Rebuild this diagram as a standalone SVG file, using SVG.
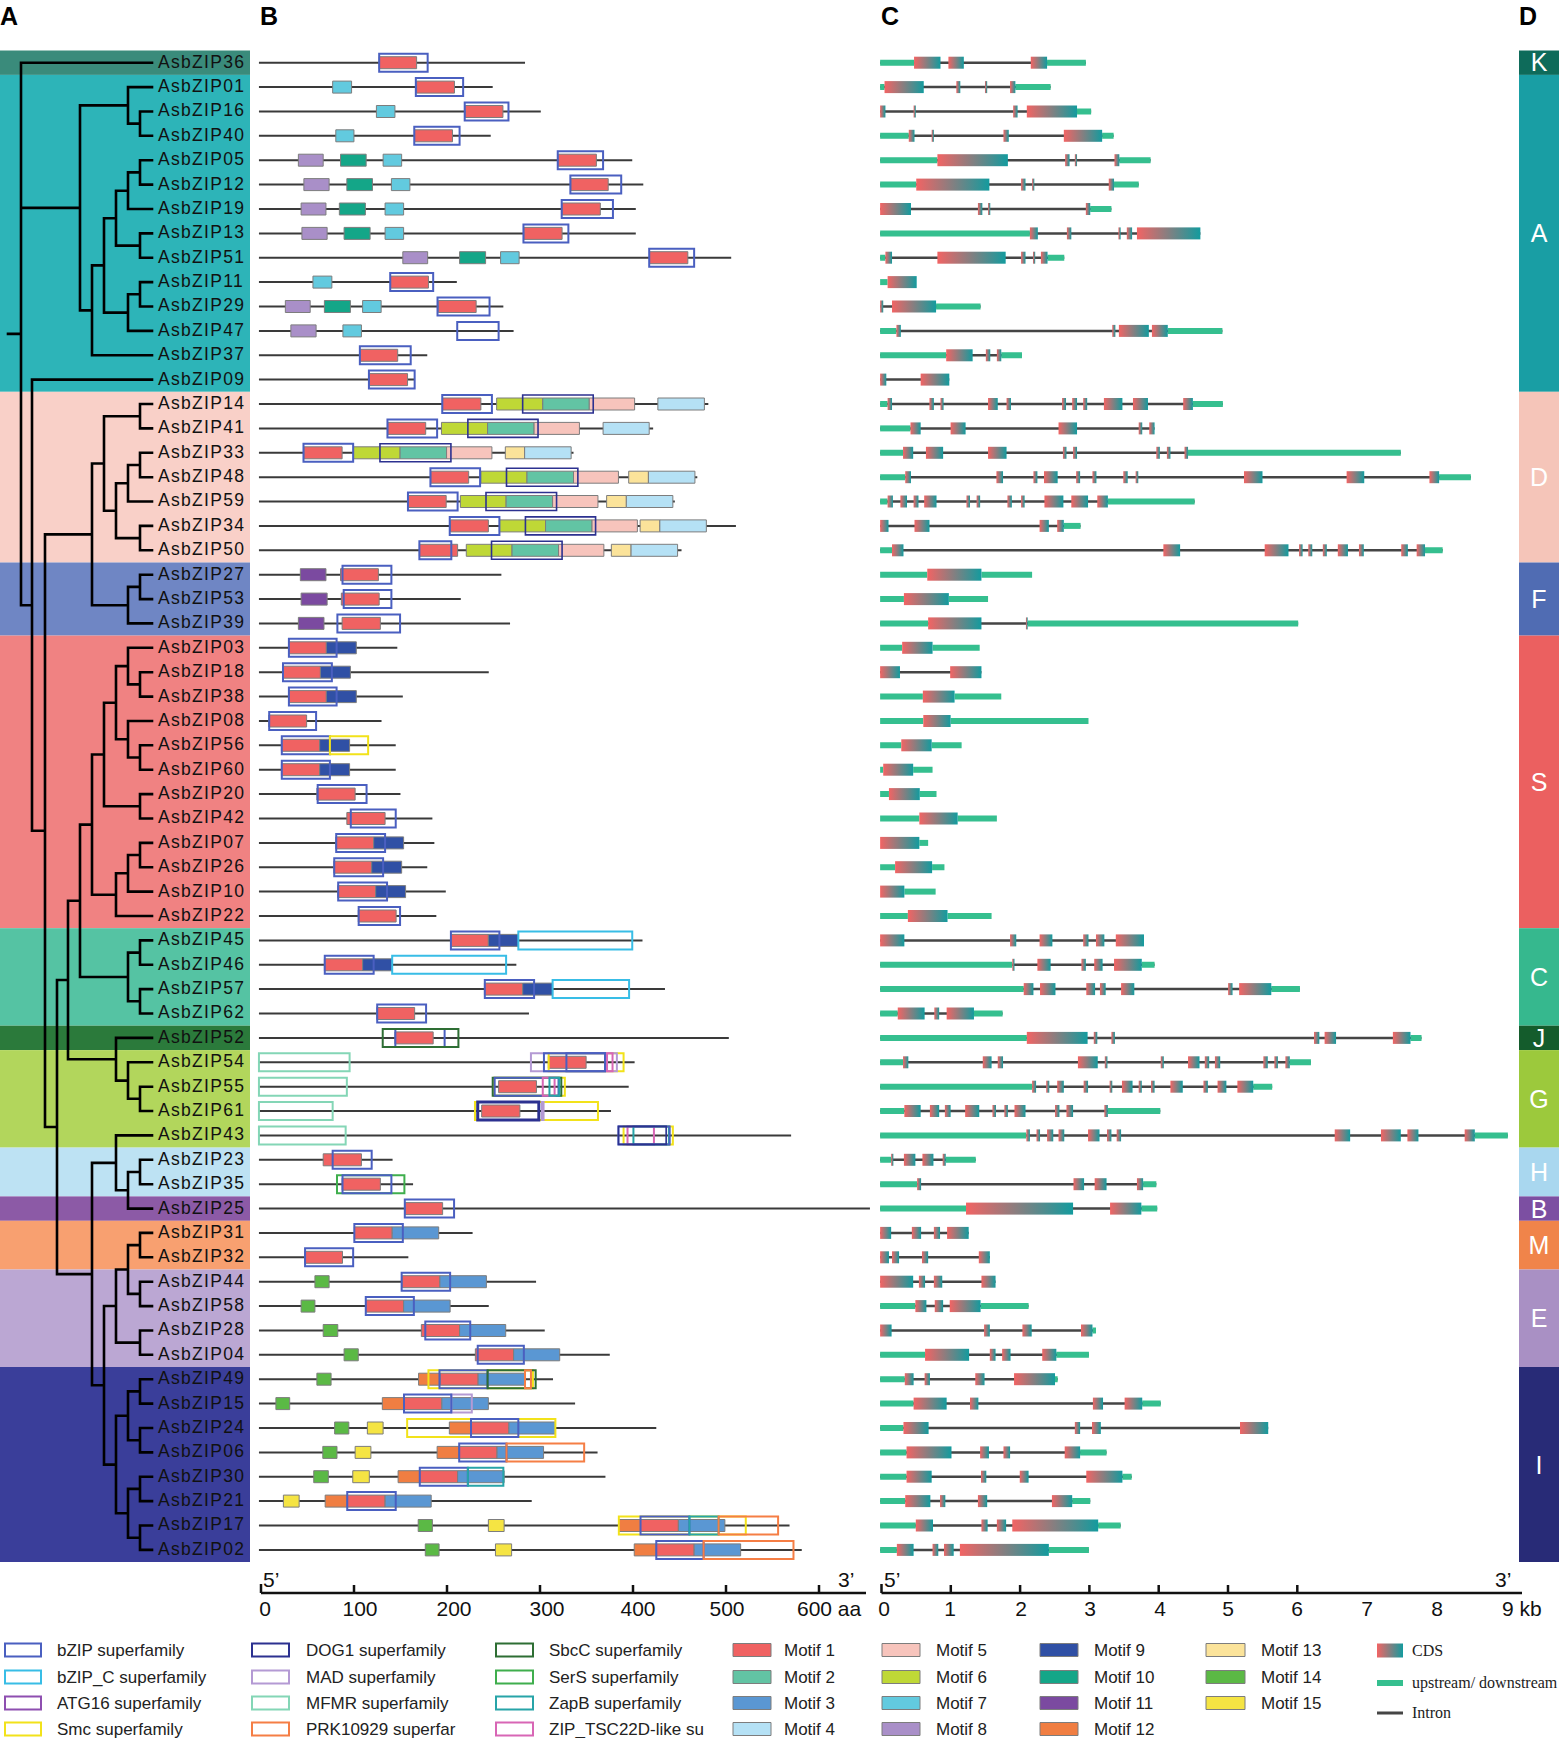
<svg xmlns="http://www.w3.org/2000/svg" width="1561" height="1738" viewBox="0 0 1561 1738">
<defs>
<linearGradient id="cds" x1="0" y1="0" x2="1" y2="0"><stop offset="0" stop-color="#f26464"/><stop offset="1" stop-color="#139b9e"/></linearGradient>
<style>
.tr{fill:none;stroke:#000;stroke-width:2.6;stroke-linecap:square}
.lb{font-family:"Liberation Sans",Arial,sans-serif;font-size:17.5px;letter-spacing:1.3px;fill:#111}
.pl{font-family:"Liberation Sans",Arial,sans-serif;font-size:25px;font-weight:bold;fill:#000}
.ax{font-family:"Liberation Sans",Arial,sans-serif;font-size:21px;fill:#111}
.lg{font-family:"Liberation Sans",Arial,sans-serif;font-size:17px;fill:#222}
.lgs{font-family:"Liberation Serif","Times New Roman",serif;font-size:16px;fill:#222}
.dl{font-family:"Liberation Sans",Arial,sans-serif;font-size:25px;fill:#fff;text-anchor:middle}
.axl{stroke:#111;stroke-width:2.5;fill:none}
.bl{stroke:#3a3a3a;stroke-width:2;vector-effect:non-scaling-stroke}
rect[class^="m"]{stroke:#7d7d7d;stroke-width:1;vector-effect:non-scaling-stroke}
rect[class^="d"]{fill:none;stroke-width:2;vector-effect:non-scaling-stroke}
.m1{fill:#f06262}.m2{fill:#62c4a4}.m3{fill:#5a97d3}.m4{fill:#b5e1f5}.m5{fill:#f7c4bc}.m6{fill:#bfd836}.m7{fill:#62cadf}.m8{fill:#a98fc8}.m9{fill:#3050a5}.m10{fill:#14a688}.m11{fill:#7b4aa0}.m12{fill:#f07e42}.m13{fill:#fbe39a}.m14{fill:#5bb945}.m15{fill:#f5e443}
.dbz{stroke:#4a5fc0}.dbzc{stroke:#38bde6}.datg{stroke:#8e4fb0}.dsmc{stroke:#f2e21a}.ddog{stroke:#2c3190}.dmad{stroke:#b49ad4}.dmfmr{stroke:#84d6b6}.dprk{stroke:#f57e45}.dsbc{stroke:#2e6e34}.dser{stroke:#3fae4d}.dzap{stroke:#27a4a8}.dzip{stroke:#d866b5}
#proteins rect.ddog{stroke-width:1.6}
.ut{fill:#35bf8f}
.cd{fill:url(#cds)}
.in{stroke:#454545;stroke-width:2.5;vector-effect:non-scaling-stroke}
</style>
</defs>
<rect width="1561" height="1738" fill="#fff"/>

<g id="panel-labels">
<text class="pl" x="0" y="25">A</text>
<text class="pl" x="260" y="25">B</text>
<text class="pl" x="881" y="25">C</text>
<text class="pl" x="1519" y="25">D</text>
</g>

<g id="bands-A">
<rect x="0" y="50.5" width="250" height="24.4" fill="#3a8b7b"/>
<rect x="0" y="74.9" width="250" height="316.9" fill="#2db4b8"/>
<rect x="0" y="391.8" width="250" height="170.7" fill="#f9d0c8"/>
<rect x="0" y="562.5" width="250" height="73.1" fill="#6f86c4"/>
<rect x="0" y="635.6" width="250" height="292.6" fill="#f08282"/>
<rect x="0" y="928.2" width="250" height="97.5" fill="#55c3a3"/>
<rect x="0" y="1025.7" width="250" height="24.4" fill="#2b7a3b"/>
<rect x="0" y="1050.1" width="250" height="97.5" fill="#b2d65c"/>
<rect x="0" y="1147.6" width="250" height="48.8" fill="#bde2f3"/>
<rect x="0" y="1196.4" width="250" height="24.4" fill="#8c5aa6"/>
<rect x="0" y="1220.8" width="250" height="48.7" fill="#f8a070"/>
<rect x="0" y="1269.5" width="250" height="97.5" fill="#bba7d3"/>
<rect x="0" y="1367" width="250" height="195" fill="#3a3e9a"/>
</g>

<g id="tree">
<path class="tr" d="M8,333.9H21M21,62.7V605.2M21,62.7H152M21,207.9H80M21,605.2H32
M80,105.4V310.4M80,105.4H128M80,310.4H92
M128,87.1V123.6M128,87.1H152M128,123.6H140M140,111.5V135.8M140,111.5H152M140,135.8H152
M92,265.4V355.3M92,265.4H104M92,355.3H152
M104,218.2V312.6M104,218.2H116M104,312.6H128
M116,190.7V245.6M116,190.7H128M116,245.6H140
M128,172.4V209M128,172.4H140M128,209H152
M140,160.2V184.6M140,160.2H152M140,184.6H152
M140,233.4V257.7M140,233.4H152M140,257.7H152
M128,294.3V330.9M128,294.3H140M128,330.9H152
M140,282.1V306.5M140,282.1H152M140,306.5H152
M32,379.6V830.7M32,379.6H152M32,830.7H45
M45,534.4V1127M45,534.4H92M45,1127H57
M92,463.5V605.2M92,463.5H104M92,605.2H128
M104,416.2V510.7M104,416.2H140M104,510.7H116
M140,404V428.4M140,404H152M140,428.4H152
M116,483.3V538.1M116,483.3H128M116,538.1H140
M128,465V501.5M128,465H140M128,501.5H152
M140,452.8V477.2M140,452.8H152M140,477.2H152
M140,525.9V550.3M140,525.9H152M140,550.3H152
M128,586.9V623.4M128,586.9H140M128,623.4H152
M140,574.7V599.1M140,574.7H152M140,599.1H152
M57,980V1274.1M57,980H68M57,1274.1H92
M68,900.8V1059.3M68,900.8H80M68,1059.3H116
M80,824.6V977M80,824.6H92M80,977H128
M92,754.5V894.7M92,754.5H104M92,894.7H116
M104,702.7V806.3M104,702.7H116M104,806.3H140
M116,666.1V739.3M116,666.1H128M116,739.3H128
M128,647.8V684.4M128,647.8H152M128,684.4H140
M140,672.2V696.6M140,672.2H152M140,696.6H152
M128,721V757.5M128,721H152M128,757.5H140
M140,745.3V769.7M140,745.3H152M140,769.7H152
M140,794.1V818.5M140,794.1H152M140,818.5H152
M116,873.3V916M116,873.3H128M116,916H152
M128,855V891.6M128,855H140M128,891.6H152
M140,842.9V867.2M140,842.9H152M140,867.2H152
M128,952.6V1001.3M128,952.6H140M128,1001.3H140
M140,940.4V964.8M140,940.4H152M140,964.8H152
M140,989.1V1013.5M140,989.1H152M140,1013.5H152
M116,1037.9V1080.6M116,1037.9H152M116,1080.6H128
M128,1062.3V1098.8M128,1062.3H152M128,1098.8H140
M140,1086.7V1111M140,1086.7H152M140,1111H152
M92,1162.9V1385.3M92,1162.9H116M92,1385.3H104
M116,1135.4V1190.3M116,1135.4H152M116,1190.3H128
M128,1172V1208.6M128,1172H140M128,1208.6H152
M140,1159.8V1184.2M140,1159.8H152M140,1184.2H152
M104,1306V1464.6M104,1306H116M104,1464.6H116
M116,1269.5V1342.6M116,1269.5H128M116,1342.6H140
M128,1245.1V1293.9M128,1245.1H140M128,1293.9H140
M140,1232.9V1257.3M140,1232.9H152M140,1257.3H152
M140,1281.7V1306.1M140,1281.7H152M140,1306.1H152
M140,1330.5V1354.8M140,1330.5H152M140,1354.8H152
M116,1415.8V1513.3M116,1415.8H128M116,1513.3H128
M128,1391.4V1440.2M128,1391.4H140M128,1440.2H140
M128,1488.9V1537.7M128,1488.9H140M128,1537.7H140
M140,1379.2V1403.6M140,1379.2H152M140,1403.6H152
M140,1428V1452.4M140,1428H152M140,1452.4H152
M140,1476.7V1501.1M140,1476.7H152M140,1501.1H152
M140,1525.5V1549.9M140,1525.5H152M140,1549.9H152"/>
</g>

<g id="leaf-labels" transform="translate(0,-1.3)">
<text class="lb" x="158" y="69">AsbZIP36</text>
<text class="lb" x="158" y="93.4">AsbZIP01</text>
<text class="lb" x="158" y="117.8">AsbZIP16</text>
<text class="lb" x="158" y="142.1">AsbZIP40</text>
<text class="lb" x="158" y="166.5">AsbZIP05</text>
<text class="lb" x="158" y="190.9">AsbZIP12</text>
<text class="lb" x="158" y="215.3">AsbZIP19</text>
<text class="lb" x="158" y="239.7">AsbZIP13</text>
<text class="lb" x="158" y="264">AsbZIP51</text>
<text class="lb" x="158" y="288.4">AsbZIP11</text>
<text class="lb" x="158" y="312.8">AsbZIP29</text>
<text class="lb" x="158" y="337.2">AsbZIP47</text>
<text class="lb" x="158" y="361.6">AsbZIP37</text>
<text class="lb" x="158" y="385.9">AsbZIP09</text>
<text class="lb" x="158" y="410.3">AsbZIP14</text>
<text class="lb" x="158" y="434.7">AsbZIP41</text>
<text class="lb" x="158" y="459.1">AsbZIP33</text>
<text class="lb" x="158" y="483.5">AsbZIP48</text>
<text class="lb" x="158" y="507.8">AsbZIP59</text>
<text class="lb" x="158" y="532.2">AsbZIP34</text>
<text class="lb" x="158" y="556.6">AsbZIP50</text>
<text class="lb" x="158" y="581">AsbZIP27</text>
<text class="lb" x="158" y="605.4">AsbZIP53</text>
<text class="lb" x="158" y="629.7">AsbZIP39</text>
<text class="lb" x="158" y="654.1">AsbZIP03</text>
<text class="lb" x="158" y="678.5">AsbZIP18</text>
<text class="lb" x="158" y="702.9">AsbZIP38</text>
<text class="lb" x="158" y="727.3">AsbZIP08</text>
<text class="lb" x="158" y="751.6">AsbZIP56</text>
<text class="lb" x="158" y="776">AsbZIP60</text>
<text class="lb" x="158" y="800.4">AsbZIP20</text>
<text class="lb" x="158" y="824.8">AsbZIP42</text>
<text class="lb" x="158" y="849.2">AsbZIP07</text>
<text class="lb" x="158" y="873.5">AsbZIP26</text>
<text class="lb" x="158" y="897.9">AsbZIP10</text>
<text class="lb" x="158" y="922.3">AsbZIP22</text>
<text class="lb" x="158" y="946.7">AsbZIP45</text>
<text class="lb" x="158" y="971.1">AsbZIP46</text>
<text class="lb" x="158" y="995.4">AsbZIP57</text>
<text class="lb" x="158" y="1019.8">AsbZIP62</text>
<text class="lb" x="158" y="1044.2">AsbZIP52</text>
<text class="lb" x="158" y="1068.6">AsbZIP54</text>
<text class="lb" x="158" y="1093">AsbZIP55</text>
<text class="lb" x="158" y="1117.3">AsbZIP61</text>
<text class="lb" x="158" y="1141.7">AsbZIP43</text>
<text class="lb" x="158" y="1166.1">AsbZIP23</text>
<text class="lb" x="158" y="1190.5">AsbZIP35</text>
<text class="lb" x="158" y="1214.9">AsbZIP25</text>
<text class="lb" x="158" y="1239.2">AsbZIP31</text>
<text class="lb" x="158" y="1263.6">AsbZIP32</text>
<text class="lb" x="158" y="1288">AsbZIP44</text>
<text class="lb" x="158" y="1312.4">AsbZIP58</text>
<text class="lb" x="158" y="1336.8">AsbZIP28</text>
<text class="lb" x="158" y="1361.1">AsbZIP04</text>
<text class="lb" x="158" y="1385.5">AsbZIP49</text>
<text class="lb" x="158" y="1409.9">AsbZIP15</text>
<text class="lb" x="158" y="1434.3">AsbZIP24</text>
<text class="lb" x="158" y="1458.7">AsbZIP06</text>
<text class="lb" x="158" y="1483">AsbZIP30</text>
<text class="lb" x="158" y="1507.4">AsbZIP21</text>
<text class="lb" x="158" y="1531.8">AsbZIP17</text>
<text class="lb" x="158" y="1556.2">AsbZIP02</text>
</g>

<g id="proteins" transform="translate(255,0) scale(0.3942,1)">
<g transform="translate(0,62.7)"><line class="bl" x1="10" x2="685"/><rect class="m1" x="315" y="-6" width="95" height="12"/><rect class="dbz" x="315" y="-9" width="123" height="18"/></g>
<g transform="translate(0,87.1)"><line class="bl" x1="10" x2="603"/><rect class="m7" x="197" y="-6" width="48" height="12"/><rect class="m1" x="410" y="-6" width="96" height="12"/><rect class="dbz" x="408" y="-9" width="120" height="18"/></g>
<g transform="translate(0,111.5)"><line class="bl" x1="10" x2="725"/><rect class="m7" x="308" y="-6" width="47" height="12"/><rect class="m1" x="533" y="-6" width="96" height="12"/><rect class="dbz" x="532" y="-9" width="111" height="18"/></g>
<g transform="translate(0,135.8)"><line class="bl" x1="10" x2="598"/><rect class="m7" x="205" y="-6" width="46" height="12"/><rect class="m1" x="405" y="-6" width="96" height="12"/><rect class="dbz" x="404" y="-9" width="115" height="18"/></g>
<g transform="translate(0,160.2)"><line class="bl" x1="10" x2="957"/><rect class="m8" x="110" y="-6" width="63" height="12"/><rect class="m10" x="217" y="-6" width="65" height="12"/><rect class="m7" x="325" y="-6" width="47" height="12"/><rect class="m1" x="769" y="-6" width="97" height="12"/><rect class="dbz" x="768" y="-9" width="115" height="18"/></g>
<g transform="translate(0,184.6)"><line class="bl" x1="10" x2="985"/><rect class="m8" x="124" y="-6" width="64" height="12"/><rect class="m10" x="233" y="-6" width="65" height="12"/><rect class="m7" x="346" y="-6" width="47" height="12"/><rect class="m1" x="801" y="-6" width="95" height="12"/><rect class="dbz" x="800" y="-9" width="129" height="18"/></g>
<g transform="translate(0,209)"><line class="bl" x1="10" x2="966"/><rect class="m8" x="117" y="-6" width="63" height="12"/><rect class="m10" x="214" y="-6" width="66" height="12"/><rect class="m7" x="330" y="-6" width="47" height="12"/><rect class="m1" x="779" y="-6" width="97" height="12"/><rect class="dbz" x="778" y="-9" width="130" height="18"/></g>
<g transform="translate(0,233.4)"><line class="bl" x1="10" x2="966"/><rect class="m8" x="119" y="-6" width="64" height="12"/><rect class="m10" x="226" y="-6" width="66" height="12"/><rect class="m7" x="330" y="-6" width="47" height="12"/><rect class="m1" x="682" y="-6" width="97" height="12"/><rect class="dbz" x="681" y="-9" width="114" height="18"/></g>
<g transform="translate(0,257.7)"><line class="bl" x1="10" x2="1208"/><rect class="m8" x="375" y="-6" width="63" height="12"/><rect class="m10" x="519" y="-6" width="66" height="12"/><rect class="m7" x="623" y="-6" width="47" height="12"/><rect class="m1" x="1001" y="-6" width="97" height="12"/><rect class="dbz" x="1000" y="-9" width="114" height="18"/></g>
<g transform="translate(0,282.1)"><line class="bl" x1="10" x2="512"/><rect class="m7" x="147" y="-6" width="48" height="12"/><rect class="m1" x="344" y="-6" width="96" height="12"/><rect class="dbz" x="343" y="-9" width="109" height="18"/></g>
<g transform="translate(0,306.5)"><line class="bl" x1="10" x2="630"/><rect class="m8" x="77" y="-6" width="63" height="12"/><rect class="m10" x="176" y="-6" width="66" height="12"/><rect class="m7" x="273" y="-6" width="47" height="12"/><rect class="m1" x="465" y="-6" width="96" height="12"/><rect class="dbz" x="463" y="-9" width="132" height="18"/></g>
<g transform="translate(0,330.9)"><line class="bl" x1="10" x2="656"/><rect class="m8" x="91" y="-6" width="64" height="12"/><rect class="m7" x="223" y="-6" width="47" height="12"/><rect class="dbz" x="513" y="-9" width="105" height="18"/></g>
<g transform="translate(0,355.3)"><line class="bl" x1="10" x2="437"/><rect class="m1" x="267" y="-6" width="95" height="12"/><rect class="dbz" x="266" y="-9" width="129" height="18"/></g>
<g transform="translate(0,379.6)"><line class="bl" x1="10" x2="405"/><rect class="m1" x="290" y="-6" width="97" height="12"/><rect class="dbz" x="289" y="-9" width="116" height="18"/></g>
<g transform="translate(0,404)"><line class="bl" x1="10" x2="1150"/><rect class="m1" x="476" y="-6" width="97" height="12"/><rect class="m6" x="613" y="-6" width="117" height="12"/><rect class="m2" x="730" y="-6" width="118" height="12"/><rect class="m5" x="848" y="-6" width="115" height="12"/><rect class="m4" x="1022" y="-6" width="118" height="12"/><rect class="dbz" x="475" y="-9" width="126" height="18"/><rect class="ddog" x="679" y="-9" width="179" height="18"/></g>
<g transform="translate(0,428.4)"><line class="bl" x1="10" x2="1010"/><rect class="m1" x="337" y="-6" width="96" height="12"/><rect class="m6" x="473" y="-6" width="117" height="12"/><rect class="m2" x="590" y="-6" width="118" height="12"/><rect class="m5" x="708" y="-6" width="115" height="12"/><rect class="m4" x="883" y="-6" width="117" height="12"/><rect class="dbz" x="336" y="-9" width="126" height="18"/><rect class="ddog" x="540" y="-9" width="178" height="18"/></g>
<g transform="translate(0,452.8)"><line class="bl" x1="10" x2="808"/><rect class="m1" x="124" y="-6" width="97" height="12"/><rect class="m6" x="250" y="-6" width="118" height="12"/><rect class="m2" x="368" y="-6" width="118" height="12"/><rect class="m5" x="486" y="-6" width="115" height="12"/><rect class="m13" x="635" y="-6" width="49" height="12"/><rect class="m4" x="684" y="-6" width="118" height="12"/><rect class="dbz" x="123" y="-9" width="126" height="18"/><rect class="ddog" x="317" y="-9" width="180" height="18"/></g>
<g transform="translate(0,477.2)"><line class="bl" x1="10" x2="1122"/><rect class="m1" x="446" y="-6" width="96" height="12"/><rect class="m6" x="573" y="-6" width="117" height="12"/><rect class="m2" x="690" y="-6" width="118" height="12"/><rect class="m5" x="808" y="-6" width="114" height="12"/><rect class="m13" x="948" y="-6" width="50" height="12"/><rect class="m4" x="998" y="-6" width="118" height="12"/><rect class="dbz" x="445" y="-9" width="126" height="18"/><rect class="ddog" x="638" y="-9" width="181" height="18"/></g>
<g transform="translate(0,501.5)"><line class="bl" x1="10" x2="1065"/><rect class="m1" x="389" y="-6" width="96" height="12"/><rect class="m6" x="521" y="-6" width="116" height="12"/><rect class="m2" x="637" y="-6" width="118" height="12"/><rect class="m5" x="755" y="-6" width="115" height="12"/><rect class="m13" x="892" y="-6" width="50" height="12"/><rect class="m4" x="942" y="-6" width="118" height="12"/><rect class="dbz" x="388" y="-9" width="126" height="18"/><rect class="ddog" x="586" y="-9" width="179" height="18"/></g>
<g transform="translate(0,525.9)"><line class="bl" x1="10" x2="1220"/><rect class="m1" x="496" y="-6" width="96" height="12"/><rect class="m6" x="620" y="-6" width="117" height="12"/><rect class="m2" x="737" y="-6" width="118" height="12"/><rect class="m5" x="855" y="-6" width="115" height="12"/><rect class="m13" x="977" y="-6" width="50" height="12"/><rect class="m4" x="1027" y="-6" width="118" height="12"/><rect class="dbz" x="494" y="-9" width="126" height="18"/><rect class="ddog" x="686" y="-9" width="178" height="18"/></g>
<g transform="translate(0,550.3)"><line class="bl" x1="10" x2="1082"/><rect class="m1" x="417" y="-6" width="97" height="12"/><rect class="m6" x="536" y="-6" width="116" height="12"/><rect class="m2" x="652" y="-6" width="118" height="12"/><rect class="m5" x="770" y="-6" width="115" height="12"/><rect class="m13" x="904" y="-6" width="50" height="12"/><rect class="m4" x="954" y="-6" width="118" height="12"/><rect class="dbz" x="417" y="-9" width="81" height="18"/><rect class="ddog" x="600" y="-9" width="179" height="18"/></g>
<g transform="translate(0,574.7)"><line class="bl" x1="10" x2="625"/><rect class="m11" x="115" y="-6" width="65" height="12"/><rect class="m1" x="217" y="-6" width="96" height="12"/><rect class="dbz" x="222" y="-9" width="124" height="18"/></g>
<g transform="translate(0,599.1)"><line class="bl" x1="10" x2="522"/><rect class="m11" x="117" y="-6" width="66" height="12"/><rect class="m1" x="219" y="-6" width="96" height="12"/><rect class="dbz" x="225" y="-9" width="121" height="18"/></g>
<g transform="translate(0,623.4)"><line class="bl" x1="10" x2="647"/><rect class="m11" x="110" y="-6" width="65" height="12"/><rect class="m1" x="221" y="-6" width="97" height="12"/><rect class="dbz" x="209" y="-9" width="159" height="18"/></g>
<g transform="translate(0,647.8)"><line class="bl" x1="10" x2="361"/><rect class="m1" x="85" y="-6" width="96" height="12"/><rect class="m9" x="181" y="-6" width="76" height="12"/><rect class="dbz" x="86" y="-9" width="121" height="18"/></g>
<g transform="translate(0,672.2)"><line class="bl" x1="10" x2="593"/><rect class="m1" x="70" y="-6" width="96" height="12"/><rect class="m9" x="166" y="-6" width="76" height="12"/><rect class="dbz" x="71" y="-9" width="124" height="18"/></g>
<g transform="translate(0,696.6)"><line class="bl" x1="10" x2="375"/><rect class="m1" x="85" y="-6" width="96" height="12"/><rect class="m9" x="181" y="-6" width="76" height="12"/><rect class="dbz" x="86" y="-9" width="121" height="18"/></g>
<g transform="translate(0,721)"><line class="bl" x1="10" x2="321"/><rect class="m1" x="35" y="-6" width="96" height="12"/><rect class="dbz" x="36" y="-9" width="119" height="18"/></g>
<g transform="translate(0,745.3)"><line class="bl" x1="10" x2="357"/><rect class="m1" x="67" y="-6" width="97" height="12"/><rect class="m9" x="164" y="-6" width="76" height="12"/><rect class="dbz" x="68" y="-9" width="122" height="18"/><rect class="dsmc" x="190" y="-9" width="97" height="18"/></g>
<g transform="translate(0,769.7)"><line class="bl" x1="10" x2="357"/><rect class="m1" x="67" y="-6" width="97" height="12"/><rect class="m9" x="164" y="-6" width="76" height="12"/><rect class="dbz" x="68" y="-9" width="122" height="18"/></g>
<g transform="translate(0,794.1)"><line class="bl" x1="10" x2="369"/><rect class="m1" x="157" y="-6" width="97" height="12"/><rect class="dbz" x="159" y="-9" width="124" height="18"/></g>
<g transform="translate(0,818.5)"><line class="bl" x1="10" x2="450"/><rect class="m1" x="233" y="-6" width="97" height="12"/><rect class="dbz" x="243" y="-9" width="114" height="18"/></g>
<g transform="translate(0,842.9)"><line class="bl" x1="10" x2="455"/><rect class="m1" x="205" y="-6" width="96" height="12"/><rect class="m9" x="301" y="-6" width="76" height="12"/><rect class="dbz" x="206" y="-9" width="124" height="18"/></g>
<g transform="translate(0,867.2)"><line class="bl" x1="10" x2="437"/><rect class="m1" x="200" y="-6" width="96" height="12"/><rect class="m9" x="296" y="-6" width="76" height="12"/><rect class="dbz" x="201" y="-9" width="124" height="18"/></g>
<g transform="translate(0,891.6)"><line class="bl" x1="10" x2="484"/><rect class="m1" x="210" y="-6" width="96" height="12"/><rect class="m9" x="306" y="-6" width="76" height="12"/><rect class="dbz" x="211" y="-9" width="124" height="18"/></g>
<g transform="translate(0,916)"><line class="bl" x1="10" x2="460"/><rect class="m1" x="262" y="-6" width="96" height="12"/><rect class="dbz" x="263" y="-9" width="105" height="18"/></g>
<g transform="translate(0,940.4)"><line class="bl" x1="10" x2="983"/><rect class="m1" x="496" y="-6" width="96" height="12"/><rect class="m9" x="592" y="-6" width="76" height="12"/><rect class="dbz" x="497" y="-9" width="123" height="18"/><rect class="dbzc" x="668" y="-9" width="289" height="18"/></g>
<g transform="translate(0,964.8)"><line class="bl" x1="10" x2="663"/><rect class="m1" x="176" y="-6" width="97" height="12"/><rect class="m9" x="273" y="-6" width="75" height="12"/><rect class="dbz" x="177" y="-9" width="124" height="18"/><rect class="dbzc" x="348" y="-9" width="289" height="18"/></g>
<g transform="translate(0,989.1)"><line class="bl" x1="10" x2="1040"/><rect class="m1" x="582" y="-6" width="97" height="12"/><rect class="m9" x="679" y="-6" width="76" height="12"/><rect class="dbz" x="583" y="-9" width="125" height="18"/><rect class="dbzc" x="755" y="-9" width="194" height="18"/></g>
<g transform="translate(0,1013.5)"><line class="bl" x1="10" x2="695"/><rect class="m1" x="309" y="-6" width="96" height="12"/><rect class="dbz" x="310" y="-9" width="124" height="18"/></g>
<g transform="translate(0,1037.9)"><line class="bl" x1="10" x2="1202"/><rect class="m1" x="355" y="-6" width="97" height="12"/><rect class="dbz" x="356" y="-9" width="125" height="18"/><rect class="dsbc" x="324" y="-9" width="192" height="18"/></g>
<g transform="translate(0,1062.3)"><line class="bl" x1="10" x2="963"/><rect class="dmfmr" x="10" y="-9" width="230" height="18"/><rect class="m1" x="744" y="-6" width="96" height="12"/><rect class="dsmc" x="745" y="-9" width="190" height="18"/><rect class="dmad" x="700" y="-9" width="218" height="18"/><rect class="dbz" x="733" y="-9" width="155" height="18"/><rect class="dbz" x="790" y="-9" width="98" height="18"/><rect class="dzip" x="893" y="-9" width="14" height="18"/></g>
<g transform="translate(0,1086.7)"><line class="bl" x1="10" x2="948"/><rect class="dmfmr" x="10" y="-9" width="223" height="18"/><rect class="m1" x="618" y="-6" width="96" height="12"/><rect class="dsmc" x="606" y="-9" width="180" height="18"/><rect class="dsbc" x="603" y="-9" width="174" height="18"/><rect class="dbz" x="608" y="-9" width="162" height="18"/><rect class="dzip" x="730" y="-9" width="30" height="18"/><rect class="dzap" x="747" y="-9" width="25" height="18"/></g>
<g transform="translate(0,1111)"><line class="bl" x1="10" x2="903"/><rect class="dmfmr" x="10" y="-9" width="187" height="18"/><rect class="m1" x="575" y="-6" width="97" height="12"/><rect class="dsmc" x="558" y="-9" width="312" height="18"/><rect class="ddog" x="565" y="-9" width="155" height="18" style="stroke-width:3"/><rect class="dmad" x="728" y="-9" width="4" height="18"/></g>
<g transform="translate(0,1135.4)"><line class="bl" x1="10" x2="1360"/><rect class="dmfmr" x="10" y="-9" width="220" height="18"/><rect class="dsmc" x="935" y="-9" width="125" height="18"/><rect class="dzip" x="945" y="-9" width="67" height="18"/><rect class="dzap" x="960" y="-9" width="90" height="18"/><rect class="dbz" x="922" y="-9" width="130" height="18"/><rect class="ddog" x="922" y="-9" width="121" height="18"/></g>
<g transform="translate(0,1159.8)"><line class="bl" x1="10" x2="349"/><rect class="m1" x="173" y="-6" width="97" height="12"/><rect class="dbz" x="197" y="-9" width="99" height="18"/></g>
<g transform="translate(0,1184.2)"><line class="bl" x1="10" x2="401"/><rect class="m1" x="221" y="-6" width="97" height="12"/><rect class="dser" x="208" y="-9" width="171" height="18"/><rect class="dbz" x="222" y="-9" width="124" height="18"/></g>
<g transform="translate(0,1208.6)"><line class="bl" x1="10" x2="1560"/><rect class="m1" x="381" y="-6" width="95" height="12"/><rect class="dbz" x="380" y="-9" width="125" height="18"/></g>
<g transform="translate(0,1232.9)"><line class="bl" x1="10" x2="552"/><rect class="m1" x="252" y="-6" width="96" height="12"/><rect class="m3" x="348" y="-6" width="118" height="12"/><rect class="dbz" x="252" y="-9" width="123" height="18"/></g>
<g transform="translate(0,1257.3)"><line class="bl" x1="10" x2="389"/><rect class="m1" x="126" y="-6" width="96" height="12"/><rect class="dbz" x="127" y="-9" width="122" height="18"/></g>
<g transform="translate(0,1281.7)"><line class="bl" x1="10" x2="713"/><rect class="m14" x="152" y="-6" width="36" height="12"/><rect class="m1" x="373" y="-6" width="96" height="12"/><rect class="m3" x="469" y="-6" width="118" height="12"/><rect class="dbz" x="372" y="-9" width="123" height="18"/></g>
<g transform="translate(0,1306.1)"><line class="bl" x1="10" x2="593"/><rect class="m14" x="117" y="-6" width="35" height="12"/><rect class="m1" x="281" y="-6" width="96" height="12"/><rect class="m3" x="377" y="-6" width="118" height="12"/><rect class="dbz" x="281" y="-9" width="122" height="18"/></g>
<g transform="translate(0,1330.5)"><line class="bl" x1="10" x2="735"/><rect class="m14" x="173" y="-6" width="37" height="12"/><rect class="m1" x="422" y="-6" width="97" height="12"/><rect class="m3" x="519" y="-6" width="117" height="12"/><rect class="dbz" x="432" y="-9" width="114" height="18"/></g>
<g transform="translate(0,1354.8)"><line class="bl" x1="10" x2="900"/><rect class="m14" x="226" y="-6" width="36" height="12"/><rect class="m1" x="559" y="-6" width="97" height="12"/><rect class="m3" x="656" y="-6" width="117" height="12"/><rect class="dbz" x="565" y="-9" width="117" height="18"/></g>
<g transform="translate(0,1379.2)"><line class="bl" x1="10" x2="756"/><rect class="m14" x="157" y="-6" width="36" height="12"/><rect class="m12" x="415" y="-6" width="55" height="12"/><rect class="m1" x="470" y="-6" width="96" height="12"/><rect class="m3" x="566" y="-6" width="118" height="12"/><rect class="dsmc" x="440" y="-9" width="265" height="18"/><rect class="dbz" x="468" y="-9" width="122" height="18"/><rect class="dsbc" x="590" y="-9" width="122" height="18"/><rect class="dprk" x="685" y="-9" width="15" height="18"/></g>
<g transform="translate(0,1403.6)"><line class="bl" x1="10" x2="812"/><rect class="m14" x="53" y="-6" width="35" height="12"/><rect class="m12" x="323" y="-6" width="55" height="12"/><rect class="m1" x="378" y="-6" width="96" height="12"/><rect class="m3" x="474" y="-6" width="118" height="12"/><rect class="dmad" x="498" y="-9" width="52" height="18"/><rect class="dbz" x="378" y="-9" width="120" height="18"/></g>
<g transform="translate(0,1428)"><line class="bl" x1="10" x2="1018"/><rect class="m14" x="202" y="-6" width="36" height="12"/><rect class="m15" x="285" y="-6" width="40" height="12"/><rect class="m12" x="493" y="-6" width="55" height="12"/><rect class="m1" x="548" y="-6" width="96" height="12"/><rect class="m3" x="644" y="-6" width="118" height="12"/><rect class="dsmc" x="386" y="-9" width="376" height="18"/><rect class="dbz" x="548" y="-9" width="120" height="18"/></g>
<g transform="translate(0,1452.4)"><line class="bl" x1="10" x2="869"/><rect class="m14" x="172" y="-6" width="36" height="12"/><rect class="m15" x="254" y="-6" width="40" height="12"/><rect class="m12" x="462" y="-6" width="56" height="12"/><rect class="m1" x="518" y="-6" width="96" height="12"/><rect class="m3" x="614" y="-6" width="118" height="12"/><rect class="dbz" x="518" y="-9" width="120" height="18"/><rect class="dprk" x="638" y="-9" width="197" height="18"/></g>
<g transform="translate(0,1476.7)"><line class="bl" x1="10" x2="889"/><rect class="m14" x="149" y="-6" width="37" height="12"/><rect class="m15" x="248" y="-6" width="42" height="12"/><rect class="m12" x="363" y="-6" width="55" height="12"/><rect class="m1" x="418" y="-6" width="96" height="12"/><rect class="m3" x="514" y="-6" width="118" height="12"/><rect class="dbz" x="418" y="-9" width="122" height="18"/><rect class="dzap" x="540" y="-9" width="90" height="18"/></g>
<g transform="translate(0,1501.1)"><line class="bl" x1="10" x2="702"/><rect class="m15" x="72" y="-6" width="40" height="12"/><rect class="m12" x="178" y="-6" width="56" height="12"/><rect class="m1" x="234" y="-6" width="96" height="12"/><rect class="m3" x="330" y="-6" width="117" height="12"/><rect class="dbz" x="234" y="-9" width="123" height="18"/></g>
<g transform="translate(0,1525.5)"><line class="bl" x1="10" x2="1356"/><rect class="m14" x="414" y="-6" width="36" height="12"/><rect class="m15" x="592" y="-6" width="40" height="12"/><rect class="m12" x="923" y="-6" width="55" height="12"/><rect class="m1" x="978" y="-6" width="96" height="12"/><rect class="m3" x="1074" y="-6" width="118" height="12"/><rect class="dsmc" x="923" y="-9" width="322" height="18"/><rect class="dbz" x="978" y="-9" width="124" height="18"/><rect class="dzap" x="1102" y="-9" width="74" height="18"/><rect class="dprk" x="1176" y="-9" width="151" height="18"/></g>
<g transform="translate(0,1549.9)"><line class="bl" x1="10" x2="1387"/><rect class="m14" x="432" y="-6" width="35" height="12"/><rect class="m15" x="610" y="-6" width="41" height="12"/><rect class="m12" x="962" y="-6" width="56" height="12"/><rect class="m1" x="1018" y="-6" width="96" height="12"/><rect class="m3" x="1114" y="-6" width="118" height="12"/><rect class="dbz" x="1018" y="-9" width="120" height="18"/><rect class="dprk" x="1138" y="-9" width="228" height="18"/></g>
</g>

<g id="genes" transform="translate(870,0) scale(0.4405,1)">
<g transform="translate(0,62.7)"><line class="in" x1="23" x2="490"/><path class="ut" d="M23,-3h77v6h-77zM402,-3h88v6h-88z"/><rect class="cd" x="100" y="-6" width="60" height="12"/><rect class="cd" x="178" y="-6" width="35" height="12"/><rect class="cd" x="365" y="-6" width="37" height="12"/></g>
<g transform="translate(0,87.1)"><line class="in" x1="23" x2="410"/><path class="ut" d="M23,-3h10v6h-10zM330,-3h80v6h-80z"/><rect class="cd" x="33" y="-6" width="89" height="12"/><rect class="cd" x="196" y="-6" width="9" height="12"/><rect class="cd" x="261" y="-6" width="5" height="12"/><rect class="cd" x="318" y="-6" width="12" height="12"/></g>
<g transform="translate(0,111.5)"><line class="in" x1="23" x2="502"/><path class="ut" d="M470,-3h32v6h-32z"/><rect class="cd" x="23" y="-6" width="12" height="12"/><rect class="cd" x="99" y="-6" width="5" height="12"/><rect class="cd" x="325" y="-6" width="10" height="12"/><rect class="cd" x="356" y="-6" width="114" height="12"/></g>
<g transform="translate(0,135.8)"><line class="in" x1="23" x2="553"/><path class="ut" d="M23,-3h65v6h-65zM527,-3h26v6h-26z"/><rect class="cd" x="88" y="-6" width="13" height="12"/><rect class="cd" x="140" y="-6" width="5" height="12"/><rect class="cd" x="303" y="-6" width="12" height="12"/><rect class="cd" x="440" y="-6" width="87" height="12"/></g>
<g transform="translate(0,160.2)"><line class="in" x1="23" x2="637"/><path class="ut" d="M23,-3h130v6h-130zM566,-3h71v6h-71z"/><rect class="cd" x="153" y="-6" width="160" height="12"/><rect class="cd" x="443" y="-6" width="10" height="12"/><rect class="cd" x="465" y="-6" width="5" height="12"/><rect class="cd" x="555" y="-6" width="11" height="12"/></g>
<g transform="translate(0,184.6)"><line class="in" x1="23" x2="610"/><path class="ut" d="M23,-3h82v6h-82zM554,-3h56v6h-56z"/><rect class="cd" x="105" y="-6" width="166" height="12"/><rect class="cd" x="343" y="-6" width="10" height="12"/><rect class="cd" x="368" y="-6" width="5" height="12"/><rect class="cd" x="542" y="-6" width="12" height="12"/></g>
<g transform="translate(0,209)"><line class="in" x1="23" x2="548"/><path class="ut" d="M500,-3h48v6h-48z"/><rect class="cd" x="23" y="-6" width="70" height="12"/><rect class="cd" x="245" y="-6" width="10" height="12"/><rect class="cd" x="268" y="-6" width="5" height="12"/><rect class="cd" x="490" y="-6" width="10" height="12"/></g>
<g transform="translate(0,233.4)"><line class="in" x1="23" x2="750"/><path class="ut" d="M23,-3h340v6h-340z"/><rect class="cd" x="363" y="-6" width="18" height="12"/><rect class="cd" x="447" y="-6" width="10" height="12"/><rect class="cd" x="564" y="-6" width="5" height="12"/><rect class="cd" x="583" y="-6" width="12" height="12"/><rect class="cd" x="606" y="-6" width="144" height="12"/></g>
<g transform="translate(0,257.7)"><line class="in" x1="23" x2="441"/><path class="ut" d="M23,-3h12v6h-12zM403,-3h38v6h-38z"/><rect class="cd" x="35" y="-6" width="15" height="12"/><rect class="cd" x="153" y="-6" width="155" height="12"/><rect class="cd" x="343" y="-6" width="10" height="12"/><rect class="cd" x="370" y="-6" width="5" height="12"/><rect class="cd" x="388" y="-6" width="15" height="12"/></g>
<g transform="translate(0,282.1)"><path class="ut" d="M23,-3h17v6h-17z"/><rect class="cd" x="40" y="-6" width="66" height="12"/></g>
<g transform="translate(0,306.5)"><line class="in" x1="23" x2="251"/><path class="ut" d="M150,-3h101v6h-101z"/><rect class="cd" x="23" y="-6" width="7" height="12"/><rect class="cd" x="50" y="-6" width="100" height="12"/></g>
<g transform="translate(0,330.9)"><line class="in" x1="23" x2="800"/><path class="ut" d="M23,-3h37v6h-37zM676,-3h124v6h-124z"/><rect class="cd" x="60" y="-6" width="10" height="12"/><rect class="cd" x="550" y="-6" width="7" height="12"/><rect class="cd" x="565" y="-6" width="68" height="12"/><rect class="cd" x="640" y="-6" width="36" height="12"/></g>
<g transform="translate(0,355.3)"><line class="in" x1="23" x2="345"/><path class="ut" d="M23,-3h150v6h-150zM298,-3h47v6h-47z"/><rect class="cd" x="173" y="-6" width="60" height="12"/><rect class="cd" x="263" y="-6" width="10" height="12"/><rect class="cd" x="288" y="-6" width="10" height="12"/></g>
<g transform="translate(0,379.6)"><line class="in" x1="23" x2="180"/><rect class="cd" x="23" y="-6" width="14" height="12"/><rect class="cd" x="115" y="-6" width="65" height="12"/></g>
<g transform="translate(0,404)"><line class="in" x1="23" x2="801"/><path class="ut" d="M23,-3h17v6h-17zM733,-3h68v6h-68z"/><rect class="cd" x="40" y="-6" width="10" height="12"/><rect class="cd" x="135" y="-6" width="10" height="12"/><rect class="cd" x="160" y="-6" width="7" height="12"/><rect class="cd" x="268" y="-6" width="22" height="12"/><rect class="cd" x="310" y="-6" width="10" height="12"/><rect class="cd" x="436" y="-6" width="9" height="12"/><rect class="cd" x="459" y="-6" width="11" height="12"/><rect class="cd" x="484" y="-6" width="9" height="12"/><rect class="cd" x="531" y="-6" width="42" height="12"/><rect class="cd" x="597" y="-6" width="34" height="12"/><rect class="cd" x="711" y="-6" width="22" height="12"/></g>
<g transform="translate(0,428.4)"><line class="in" x1="23" x2="646"/><path class="ut" d="M23,-3h69v6h-69z"/><rect class="cd" x="92" y="-6" width="23" height="12"/><rect class="cd" x="183" y="-6" width="34" height="12"/><rect class="cd" x="428" y="-6" width="42" height="12"/><rect class="cd" x="610" y="-6" width="8" height="12"/><rect class="cd" x="634" y="-6" width="12" height="12"/></g>
<g transform="translate(0,452.8)"><line class="in" x1="23" x2="1205"/><path class="ut" d="M23,-3h52v6h-52zM722,-3h483v6h-483z"/><rect class="cd" x="75" y="-6" width="23" height="12"/><rect class="cd" x="127" y="-6" width="39" height="12"/><rect class="cd" x="268" y="-6" width="42" height="12"/><rect class="cd" x="438" y="-6" width="8" height="12"/><rect class="cd" x="461" y="-6" width="9" height="12"/><rect class="cd" x="650" y="-6" width="8" height="12"/><rect class="cd" x="674" y="-6" width="8" height="12"/><rect class="cd" x="714" y="-6" width="8" height="12"/></g>
<g transform="translate(0,477.2)"><line class="in" x1="23" x2="1364"/><path class="ut" d="M23,-3h57v6h-57zM1292,-3h72v6h-72z"/><rect class="cd" x="80" y="-6" width="13" height="12"/><rect class="cd" x="287" y="-6" width="15" height="12"/><rect class="cd" x="371" y="-6" width="9" height="12"/><rect class="cd" x="395" y="-6" width="31" height="12"/><rect class="cd" x="468" y="-6" width="9" height="12"/><rect class="cd" x="505" y="-6" width="9" height="12"/><rect class="cd" x="575" y="-6" width="10" height="12"/><rect class="cd" x="603" y="-6" width="6" height="12"/><rect class="cd" x="849" y="-6" width="42" height="12"/><rect class="cd" x="1082" y="-6" width="40" height="12"/><rect class="cd" x="1270" y="-6" width="22" height="12"/></g>
<g transform="translate(0,501.5)"><line class="in" x1="23" x2="737"/><path class="ut" d="M23,-3h17v6h-17zM540,-3h197v6h-197z"/><rect class="cd" x="40" y="-6" width="12" height="12"/><rect class="cd" x="69" y="-6" width="15" height="12"/><rect class="cd" x="99" y="-6" width="11" height="12"/><rect class="cd" x="123" y="-6" width="28" height="12"/><rect class="cd" x="219" y="-6" width="8" height="12"/><rect class="cd" x="242" y="-6" width="8" height="12"/><rect class="cd" x="312" y="-6" width="10" height="12"/><rect class="cd" x="343" y="-6" width="8" height="12"/><rect class="cd" x="396" y="-6" width="43" height="12"/><rect class="cd" x="457" y="-6" width="38" height="12"/><rect class="cd" x="516" y="-6" width="24" height="12"/></g>
<g transform="translate(0,525.9)"><line class="in" x1="23" x2="478"/><path class="ut" d="M440,-3h38v6h-38z"/><rect class="cd" x="23" y="-6" width="19" height="12"/><rect class="cd" x="101" y="-6" width="34" height="12"/><rect class="cd" x="385" y="-6" width="21" height="12"/><rect class="cd" x="425" y="-6" width="15" height="12"/></g>
<g transform="translate(0,550.3)"><line class="in" x1="23" x2="1300"/><path class="ut" d="M23,-3h27v6h-27zM1260,-3h40v6h-40z"/><rect class="cd" x="50" y="-6" width="26" height="12"/><rect class="cd" x="666" y="-6" width="38" height="12"/><rect class="cd" x="896" y="-6" width="54" height="12"/><rect class="cd" x="974" y="-6" width="8" height="12"/><rect class="cd" x="995" y="-6" width="9" height="12"/><rect class="cd" x="1028" y="-6" width="9" height="12"/><rect class="cd" x="1062" y="-6" width="23" height="12"/><rect class="cd" x="1110" y="-6" width="11" height="12"/><rect class="cd" x="1206" y="-6" width="15" height="12"/><rect class="cd" x="1241" y="-6" width="19" height="12"/></g>
<g transform="translate(0,574.7)"><path class="ut" d="M23,-3h107v6h-107zM253,-3h115v6h-115z"/><rect class="cd" x="130" y="-6" width="123" height="12"/></g>
<g transform="translate(0,599.1)"><path class="ut" d="M23,-3h54v6h-54zM179,-3h89v6h-89z"/><rect class="cd" x="77" y="-6" width="102" height="12"/></g>
<g transform="translate(0,623.4)"><line class="in" x1="23" x2="972"/><path class="ut" d="M23,-3h109v6h-109zM358,-3h614v6h-614z"/><rect class="cd" x="132" y="-6" width="121" height="12"/><rect class="cd" x="354" y="-6" width="4" height="12"/></g>
<g transform="translate(0,647.8)"><path class="ut" d="M23,-3h50v6h-50zM142,-3h107v6h-107z"/><rect class="cd" x="73" y="-6" width="69" height="12"/></g>
<g transform="translate(0,672.2)"><line class="in" x1="23" x2="253"/><rect class="cd" x="23" y="-6" width="45" height="12"/><rect class="cd" x="182" y="-6" width="71" height="12"/></g>
<g transform="translate(0,696.6)"><path class="ut" d="M23,-3h97v6h-97zM192,-3h106v6h-106z"/><rect class="cd" x="120" y="-6" width="72" height="12"/></g>
<g transform="translate(0,721)"><path class="ut" d="M23,-3h98v6h-98zM183,-3h313v6h-313z"/><rect class="cd" x="121" y="-6" width="62" height="12"/></g>
<g transform="translate(0,745.3)"><path class="ut" d="M23,-3h48v6h-48zM140,-3h68v6h-68z"/><rect class="cd" x="71" y="-6" width="69" height="12"/></g>
<g transform="translate(0,769.7)"><path class="ut" d="M23,-3h7v6h-7zM98,-3h44v6h-44z"/><rect class="cd" x="30" y="-6" width="68" height="12"/></g>
<g transform="translate(0,794.1)"><path class="ut" d="M23,-3h20v6h-20zM113,-3h38v6h-38z"/><rect class="cd" x="43" y="-6" width="70" height="12"/></g>
<g transform="translate(0,818.5)"><path class="ut" d="M23,-3h89v6h-89zM199,-3h89v6h-89z"/><rect class="cd" x="112" y="-6" width="87" height="12"/></g>
<g transform="translate(0,842.9)"><path class="ut" d="M112,-3h20v6h-20z"/><rect class="cd" x="23" y="-6" width="89" height="12"/></g>
<g transform="translate(0,867.2)"><path class="ut" d="M23,-3h34v6h-34zM141,-3h28v6h-28z"/><rect class="cd" x="57" y="-6" width="84" height="12"/></g>
<g transform="translate(0,891.6)"><path class="ut" d="M78,-3h71v6h-71z"/><rect class="cd" x="23" y="-6" width="55" height="12"/></g>
<g transform="translate(0,916)"><path class="ut" d="M23,-3h63v6h-63zM176,-3h100v6h-100z"/><rect class="cd" x="86" y="-6" width="90" height="12"/></g>
<g transform="translate(0,940.4)"><line class="in" x1="23" x2="622"/><rect class="cd" x="23" y="-6" width="55" height="12"/><rect class="cd" x="318" y="-6" width="14" height="12"/><rect class="cd" x="385" y="-6" width="29" height="12"/><rect class="cd" x="484" y="-6" width="12" height="12"/><rect class="cd" x="513" y="-6" width="19" height="12"/><rect class="cd" x="558" y="-6" width="64" height="12"/></g>
<g transform="translate(0,964.8)"><line class="in" x1="23" x2="646"/><path class="ut" d="M23,-3h300v6h-300zM617,-3h29v6h-29z"/><rect class="cd" x="323" y="-6" width="5" height="12"/><rect class="cd" x="380" y="-6" width="30" height="12"/><rect class="cd" x="480" y="-6" width="10" height="12"/><rect class="cd" x="509" y="-6" width="19" height="12"/><rect class="cd" x="554" y="-6" width="63" height="12"/></g>
<g transform="translate(0,989.1)"><line class="in" x1="23" x2="976"/><path class="ut" d="M23,-3h326v6h-326zM911,-3h65v6h-65z"/><rect class="cd" x="349" y="-6" width="22" height="12"/><rect class="cd" x="386" y="-6" width="35" height="12"/><rect class="cd" x="491" y="-6" width="20" height="12"/><rect class="cd" x="522" y="-6" width="13" height="12"/><rect class="cd" x="570" y="-6" width="30" height="12"/><rect class="cd" x="813" y="-6" width="10" height="12"/><rect class="cd" x="838" y="-6" width="73" height="12"/></g>
<g transform="translate(0,1013.5)"><line class="in" x1="23" x2="301"/><path class="ut" d="M23,-3h40v6h-40zM236,-3h65v6h-65z"/><rect class="cd" x="63" y="-6" width="61" height="12"/><rect class="cd" x="146" y="-6" width="11" height="12"/><rect class="cd" x="174" y="-6" width="62" height="12"/></g>
<g transform="translate(0,1037.9)"><line class="in" x1="23" x2="1252"/><path class="ut" d="M23,-3h333v6h-333zM1227,-3h25v6h-25z"/><rect class="cd" x="356" y="-6" width="138" height="12"/><rect class="cd" x="508" y="-6" width="8" height="12"/><rect class="cd" x="548" y="-6" width="8" height="12"/><rect class="cd" x="1008" y="-6" width="12" height="12"/><rect class="cd" x="1032" y="-6" width="26" height="12"/><rect class="cd" x="1187" y="-6" width="40" height="12"/></g>
<g transform="translate(0,1062.3)"><line class="in" x1="23" x2="1001"/><path class="ut" d="M23,-3h52v6h-52zM953,-3h48v6h-48z"/><rect class="cd" x="75" y="-6" width="12" height="12"/><rect class="cd" x="256" y="-6" width="20" height="12"/><rect class="cd" x="290" y="-6" width="12" height="12"/><rect class="cd" x="472" y="-6" width="45" height="12"/><rect class="cd" x="533" y="-6" width="6" height="12"/><rect class="cd" x="660" y="-6" width="7" height="12"/><rect class="cd" x="722" y="-6" width="26" height="12"/><rect class="cd" x="760" y="-6" width="10" height="12"/><rect class="cd" x="783" y="-6" width="12" height="12"/><rect class="cd" x="893" y="-6" width="10" height="12"/><rect class="cd" x="918" y="-6" width="8" height="12"/><rect class="cd" x="943" y="-6" width="10" height="12"/></g>
<g transform="translate(0,1086.7)"><line class="in" x1="23" x2="913"/><path class="ut" d="M23,-3h345v6h-345zM870,-3h43v6h-43z"/><rect class="cd" x="368" y="-6" width="9" height="12"/><rect class="cd" x="400" y="-6" width="7" height="12"/><rect class="cd" x="425" y="-6" width="15" height="12"/><rect class="cd" x="485" y="-6" width="10" height="12"/><rect class="cd" x="544" y="-6" width="6" height="12"/><rect class="cd" x="572" y="-6" width="24" height="12"/><rect class="cd" x="610" y="-6" width="7" height="12"/><rect class="cd" x="638" y="-6" width="8" height="12"/><rect class="cd" x="682" y="-6" width="28" height="12"/><rect class="cd" x="757" y="-6" width="10" height="12"/><rect class="cd" x="789" y="-6" width="20" height="12"/><rect class="cd" x="834" y="-6" width="36" height="12"/></g>
<g transform="translate(0,1111)"><line class="in" x1="23" x2="659"/><path class="ut" d="M23,-3h55v6h-55zM540,-3h119v6h-119z"/><rect class="cd" x="78" y="-6" width="37" height="12"/><rect class="cd" x="136" y="-6" width="21" height="12"/><rect class="cd" x="170" y="-6" width="13" height="12"/><rect class="cd" x="216" y="-6" width="32" height="12"/><rect class="cd" x="278" y="-6" width="8" height="12"/><rect class="cd" x="305" y="-6" width="8" height="12"/><rect class="cd" x="328" y="-6" width="25" height="12"/><rect class="cd" x="420" y="-6" width="10" height="12"/><rect class="cd" x="446" y="-6" width="15" height="12"/><rect class="cd" x="532" y="-6" width="8" height="12"/></g>
<g transform="translate(0,1135.4)"><line class="in" x1="23" x2="1448"/><path class="ut" d="M23,-3h332v6h-332zM1373,-3h75v6h-75z"/><rect class="cd" x="355" y="-6" width="8" height="12"/><rect class="cd" x="378" y="-6" width="8" height="12"/><rect class="cd" x="402" y="-6" width="14" height="12"/><rect class="cd" x="428" y="-6" width="13" height="12"/><rect class="cd" x="495" y="-6" width="26" height="12"/><rect class="cd" x="538" y="-6" width="10" height="12"/><rect class="cd" x="560" y="-6" width="10" height="12"/><rect class="cd" x="1055" y="-6" width="35" height="12"/><rect class="cd" x="1160" y="-6" width="45" height="12"/><rect class="cd" x="1220" y="-6" width="25" height="12"/><rect class="cd" x="1350" y="-6" width="23" height="12"/></g>
<g transform="translate(0,1159.8)"><line class="in" x1="23" x2="240"/><path class="ut" d="M23,-3h25v6h-25zM172,-3h68v6h-68z"/><rect class="cd" x="48" y="-6" width="5" height="12"/><rect class="cd" x="77" y="-6" width="26" height="12"/><rect class="cd" x="119" y="-6" width="25" height="12"/><rect class="cd" x="165" y="-6" width="7" height="12"/></g>
<g transform="translate(0,1184.2)"><line class="in" x1="23" x2="650"/><path class="ut" d="M23,-3h84v6h-84zM620,-3h30v6h-30z"/><rect class="cd" x="107" y="-6" width="9" height="12"/><rect class="cd" x="462" y="-6" width="24" height="12"/><rect class="cd" x="510" y="-6" width="27" height="12"/><rect class="cd" x="606" y="-6" width="14" height="12"/></g>
<g transform="translate(0,1208.6)"><line class="in" x1="23" x2="652"/><path class="ut" d="M23,-3h195v6h-195zM616,-3h36v6h-36z"/><rect class="cd" x="218" y="-6" width="243" height="12"/><rect class="cd" x="545" y="-6" width="71" height="12"/></g>
<g transform="translate(0,1232.9)"><line class="in" x1="23" x2="224"/><rect class="cd" x="23" y="-6" width="25" height="12"/><rect class="cd" x="95" y="-6" width="21" height="12"/><rect class="cd" x="145" y="-6" width="14" height="12"/><rect class="cd" x="175" y="-6" width="49" height="12"/></g>
<g transform="translate(0,1257.3)"><line class="in" x1="23" x2="272"/><rect class="cd" x="23" y="-6" width="20" height="12"/><rect class="cd" x="50" y="-6" width="16" height="12"/><rect class="cd" x="118" y="-6" width="14" height="12"/><rect class="cd" x="247" y="-6" width="25" height="12"/></g>
<g transform="translate(0,1281.7)"><line class="in" x1="23" x2="285"/><rect class="cd" x="23" y="-6" width="75" height="12"/><rect class="cd" x="111" y="-6" width="14" height="12"/><rect class="cd" x="145" y="-6" width="19" height="12"/><rect class="cd" x="253" y="-6" width="32" height="12"/></g>
<g transform="translate(0,1306.1)"><line class="in" x1="23" x2="360"/><path class="ut" d="M23,-3h80v6h-80zM251,-3h109v6h-109z"/><rect class="cd" x="103" y="-6" width="25" height="12"/><rect class="cd" x="147" y="-6" width="19" height="12"/><rect class="cd" x="181" y="-6" width="70" height="12"/></g>
<g transform="translate(0,1330.5)"><line class="in" x1="23" x2="513"/><path class="ut" d="M505,-3h8v6h-8z"/><rect class="cd" x="23" y="-6" width="26" height="12"/><rect class="cd" x="259" y="-6" width="13" height="12"/><rect class="cd" x="346" y="-6" width="21" height="12"/><rect class="cd" x="479" y="-6" width="26" height="12"/></g>
<g transform="translate(0,1354.8)"><line class="in" x1="23" x2="497"/><path class="ut" d="M23,-3h102v6h-102zM423,-3h74v6h-74z"/><rect class="cd" x="125" y="-6" width="100" height="12"/><rect class="cd" x="272" y="-6" width="13" height="12"/><rect class="cd" x="300" y="-6" width="19" height="12"/><rect class="cd" x="391" y="-6" width="32" height="12"/></g>
<g transform="translate(0,1379.2)"><line class="in" x1="23" x2="426"/><path class="ut" d="M23,-3h56v6h-56zM420,-3h6v6h-6z"/><rect class="cd" x="79" y="-6" width="20" height="12"/><rect class="cd" x="124" y="-6" width="12" height="12"/><rect class="cd" x="239" y="-6" width="21" height="12"/><rect class="cd" x="327" y="-6" width="93" height="12"/></g>
<g transform="translate(0,1403.6)"><line class="in" x1="23" x2="660"/><path class="ut" d="M23,-3h76v6h-76zM618,-3h42v6h-42z"/><rect class="cd" x="99" y="-6" width="75" height="12"/><rect class="cd" x="227" y="-6" width="19" height="12"/><rect class="cd" x="506" y="-6" width="23" height="12"/><rect class="cd" x="578" y="-6" width="40" height="12"/></g>
<g transform="translate(0,1428)"><line class="in" x1="23" x2="904"/><path class="ut" d="M23,-3h53v6h-53z"/><rect class="cd" x="76" y="-6" width="57" height="12"/><rect class="cd" x="465" y="-6" width="12" height="12"/><rect class="cd" x="504" y="-6" width="20" height="12"/><rect class="cd" x="840" y="-6" width="64" height="12"/></g>
<g transform="translate(0,1452.4)"><line class="in" x1="23" x2="537"/><path class="ut" d="M23,-3h60v6h-60zM477,-3h60v6h-60z"/><rect class="cd" x="83" y="-6" width="102" height="12"/><rect class="cd" x="250" y="-6" width="20" height="12"/><rect class="cd" x="303" y="-6" width="15" height="12"/><rect class="cd" x="442" y="-6" width="35" height="12"/></g>
<g transform="translate(0,1476.7)"><line class="in" x1="23" x2="594"/><path class="ut" d="M23,-3h60v6h-60zM573,-3h21v6h-21z"/><rect class="cd" x="83" y="-6" width="57" height="12"/><rect class="cd" x="252" y="-6" width="12" height="12"/><rect class="cd" x="340" y="-6" width="20" height="12"/><rect class="cd" x="491" y="-6" width="82" height="12"/></g>
<g transform="translate(0,1501.1)"><line class="in" x1="23" x2="500"/><path class="ut" d="M23,-3h57v6h-57zM459,-3h41v6h-41z"/><rect class="cd" x="80" y="-6" width="57" height="12"/><rect class="cd" x="159" y="-6" width="12" height="12"/><rect class="cd" x="245" y="-6" width="21" height="12"/><rect class="cd" x="413" y="-6" width="46" height="12"/></g>
<g transform="translate(0,1525.5)"><line class="in" x1="23" x2="569"/><path class="ut" d="M23,-3h81v6h-81zM518,-3h51v6h-51z"/><rect class="cd" x="104" y="-6" width="39" height="12"/><rect class="cd" x="253" y="-6" width="14" height="12"/><rect class="cd" x="288" y="-6" width="21" height="12"/><rect class="cd" x="323" y="-6" width="195" height="12"/></g>
<g transform="translate(0,1549.9)"><line class="in" x1="23" x2="497"/><path class="ut" d="M23,-3h38v6h-38zM406,-3h91v6h-91z"/><rect class="cd" x="61" y="-6" width="38" height="12"/><rect class="cd" x="142" y="-6" width="13" height="12"/><rect class="cd" x="168" y="-6" width="22" height="12"/><rect class="cd" x="204" y="-6" width="202" height="12"/></g>
</g>

<g id="groups-D">
<rect x="1519" y="50.5" width="40" height="24.4" fill="#0e6b5a"/>
<rect x="1519" y="74.9" width="40" height="316.9" fill="#199ea4"/>
<rect x="1519" y="391.8" width="40" height="170.7" fill="#f5c5b9"/>
<rect x="1519" y="562.5" width="40" height="73.1" fill="#506cb3"/>
<rect x="1519" y="635.6" width="40" height="292.6" fill="#eb6060"/>
<rect x="1519" y="928.2" width="40" height="97.5" fill="#36b88e"/>
<rect x="1519" y="1025.7" width="40" height="24.4" fill="#145c2c"/>
<rect x="1519" y="1050.1" width="40" height="97.5" fill="#9cc93c"/>
<rect x="1519" y="1147.6" width="40" height="48.8" fill="#a9d7ef"/>
<rect x="1519" y="1196.4" width="40" height="24.4" fill="#7c4fa2"/>
<rect x="1519" y="1220.8" width="40" height="48.7" fill="#f0844a"/>
<rect x="1519" y="1269.5" width="40" height="97.5" fill="#a990c4"/>
<rect x="1519" y="1367" width="40" height="195" fill="#282b77"/>
<text class="dl" x="1539" y="71">K</text>
<text class="dl" x="1539" y="242">A</text>
<text class="dl" x="1539" y="486">D</text>
<text class="dl" x="1539" y="608">F</text>
<text class="dl" x="1539" y="791">S</text>
<text class="dl" x="1539" y="986">C</text>
<text class="dl" x="1539" y="1047">J</text>
<text class="dl" x="1539" y="1108">G</text>
<text class="dl" x="1539" y="1181">H</text>
<text class="dl" x="1539" y="1218">B</text>
<text class="dl" x="1539" y="1254">M</text>
<text class="dl" x="1539" y="1327">E</text>
<text class="dl" x="1539" y="1474">I</text>
</g>

<g id="axes">
<path class="axl" d="M261,1593H866M261,1593V1584M354,1593V1585M447,1593V1585M540,1593V1585M633,1593V1585M726,1593V1585M819,1593V1585"/>
<text class="ax" x="263" y="1587">5’</text>
<text class="ax" x="838" y="1587">3’</text>
<text class="ax" x="265" y="1616" text-anchor="middle">0</text>
<text class="ax" x="360" y="1616" text-anchor="middle">100</text>
<text class="ax" x="454" y="1616" text-anchor="middle">200</text>
<text class="ax" x="547" y="1616" text-anchor="middle">300</text>
<text class="ax" x="638" y="1616" text-anchor="middle">400</text>
<text class="ax" x="727" y="1616" text-anchor="middle">500</text>
<text class="ax" x="797" y="1616">600 aa</text>
<path class="axl" d="M881.5,1593H1522M881.5,1593V1584M950.8,1593V1585M1020.1,1593V1585M1089.4,1593V1585M1158.7,1593V1585M1228,1593V1585M1297.3,1593V1585"/>
<text class="ax" x="884" y="1587">5’</text>
<text class="ax" x="1495" y="1587">3’</text>
<text class="ax" x="884" y="1616" text-anchor="middle">0</text>
<text class="ax" x="950" y="1616" text-anchor="middle">1</text>
<text class="ax" x="1021" y="1616" text-anchor="middle">2</text>
<text class="ax" x="1090" y="1616" text-anchor="middle">3</text>
<text class="ax" x="1160" y="1616" text-anchor="middle">4</text>
<text class="ax" x="1228" y="1616" text-anchor="middle">5</text>
<text class="ax" x="1297" y="1616" text-anchor="middle">6</text>
<text class="ax" x="1367" y="1616" text-anchor="middle">7</text>
<text class="ax" x="1437" y="1616" text-anchor="middle">8</text>
<text class="ax" x="1502" y="1616">9 kb</text>
</g>

<g id="legend">
<rect class="dbz" x="5" y="1643.5" width="36" height="13"/><text class="lg" x="57" y="1656">bZIP superfamily</text>
<rect class="dbzc" x="5" y="1670.5" width="36" height="13"/><text class="lg" x="57" y="1683">bZIP_C superfamily</text>
<rect class="datg" x="5" y="1696.5" width="36" height="13"/><text class="lg" x="57" y="1709">ATG16 superfamily</text>
<rect class="dsmc" x="5" y="1722.5" width="36" height="13"/><text class="lg" x="57" y="1735">Smc superfamily</text>
<rect class="ddog" x="252" y="1643.5" width="37" height="13"/><text class="lg" x="306" y="1656">DOG1 superfamily</text>
<rect class="dmad" x="252" y="1670.5" width="37" height="13"/><text class="lg" x="306" y="1683">MAD superfamily</text>
<rect class="dmfmr" x="252" y="1696.5" width="37" height="13"/><text class="lg" x="306" y="1709">MFMR superfamily</text>
<rect class="dprk" x="252" y="1722.5" width="37" height="13"/><text class="lg" x="306" y="1735">PRK10929 superfar</text>
<rect class="dsbc" x="496" y="1643.5" width="37" height="13"/><text class="lg" x="549" y="1656">SbcC superfamily</text>
<rect class="dser" x="496" y="1670.5" width="37" height="13"/><text class="lg" x="549" y="1683">SerS superfamily</text>
<rect class="dzap" x="496" y="1696.5" width="37" height="13"/><text class="lg" x="549" y="1709">ZapB superfamily</text>
<rect class="dzip" x="496" y="1722.5" width="37" height="13"/><text class="lg" x="549" y="1735">ZIP_TSC22D-like su</text>
<rect class="m1" x="733" y="1643.5" width="38" height="13"/><text class="lg" x="784" y="1656">Motif 1</text>
<rect class="m2" x="733" y="1670.5" width="38" height="13"/><text class="lg" x="784" y="1683">Motif 2</text>
<rect class="m3" x="733" y="1696.5" width="38" height="13"/><text class="lg" x="784" y="1709">Motif 3</text>
<rect class="m4" x="733" y="1722.5" width="38" height="13"/><text class="lg" x="784" y="1735">Motif 4</text>
<rect class="m5" x="882" y="1643.5" width="38" height="13"/><text class="lg" x="936" y="1656">Motif 5</text>
<rect class="m6" x="882" y="1670.5" width="38" height="13"/><text class="lg" x="936" y="1683">Motif 6</text>
<rect class="m7" x="882" y="1696.5" width="38" height="13"/><text class="lg" x="936" y="1709">Motif 7</text>
<rect class="m8" x="882" y="1722.5" width="38" height="13"/><text class="lg" x="936" y="1735">Motif 8</text>
<rect class="m9" x="1040" y="1643.5" width="38" height="13"/><text class="lg" x="1094" y="1656">Motif 9</text>
<rect class="m10" x="1040" y="1670.5" width="38" height="13"/><text class="lg" x="1094" y="1683">Motif 10</text>
<rect class="m11" x="1040" y="1696.5" width="38" height="13"/><text class="lg" x="1094" y="1709">Motif 11</text>
<rect class="m12" x="1040" y="1722.5" width="38" height="13"/><text class="lg" x="1094" y="1735">Motif 12</text>
<rect class="m13" x="1206" y="1643.5" width="39" height="13"/><text class="lg" x="1261" y="1656">Motif 13</text>
<rect class="m14" x="1206" y="1670.5" width="39" height="13"/><text class="lg" x="1261" y="1683">Motif 14</text>
<rect class="m15" x="1206" y="1696.5" width="39" height="13"/><text class="lg" x="1261" y="1709">Motif 15</text>
<rect x="1377" y="1643.5" width="26" height="14" fill="url(#cds)"/><text class="lgs" x="1412" y="1656">CDS</text>
<rect x="1377" y="1680" width="26" height="6" fill="#35bf8f"/><text class="lgs" x="1412" y="1688">upstream/ downstream</text>
<rect x="1377" y="1711.5" width="26" height="3" fill="#454545"/><text class="lgs" x="1412" y="1718">Intron</text>
</g>
</svg>
